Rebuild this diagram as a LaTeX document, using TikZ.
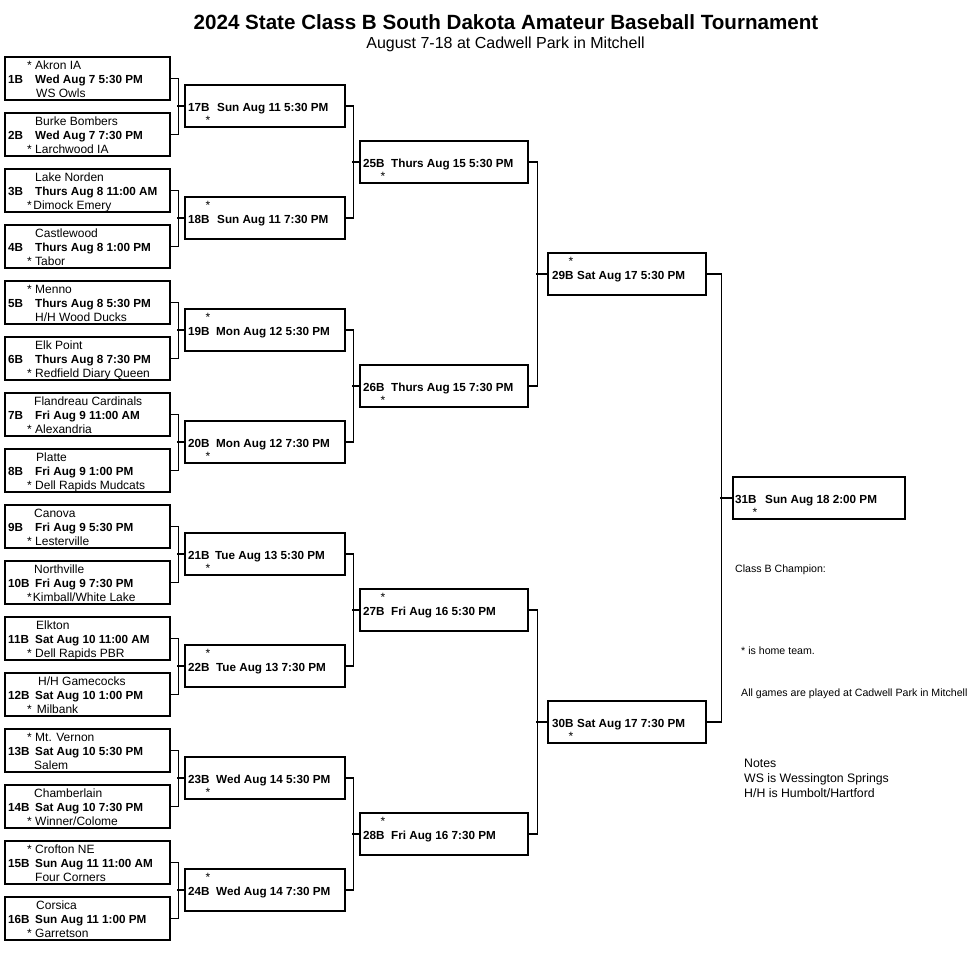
\documentclass[tikz,border=0pt]{standalone}
\usepackage{fontspec}
\setmainfont{Liberation Sans}
\tikzset{
  gbox/.style={draw, line width=1.3pt, inner sep=0pt},
  conn/.style={draw, line width=1.3pt},
  tm/.style={inner sep=0pt, anchor=base west, font=\fontsize{12}{14}\selectfont},
  bd/.style={inner sep=0pt, anchor=base west, font=\fontsize{11.7}{14}\selectfont\bfseries},
  st/.style={inner sep=0pt, anchor=base, font=\fontsize{12}{14}\selectfont},
  sm/.style={inner sep=0pt, anchor=base west, font=\fontsize{10.6}{12}\selectfont},
  nt/.style={inner sep=0pt, anchor=base west, font=\fontsize{12.3}{14}\selectfont},
}
% first round game: #1 idx, #2 top text, #3 its x, #4 date, #5 bottom text, #6 its x
\newcommand{\firstgame}[6]{%
  \pgfmathsetmacro{\tp}{57+(#1-1)*56}%
  \node[gbox, minimum width=165pt, minimum height=43pt] (g#1) at (87.5,\tp+21.5) {};
  \node[tm] (g#1t) at (#3,\tp+12) {#2};
  \node[bd] (g#1l) at (8,\tp+26.5) {#1B};
  \node[bd] (g#1d) at (35,\tp+26.5) {#4};
  \node[tm] (g#1u) at (#6,\tp+40) {#5};
}
% later game: #1 idx, #2 left, #3 right, #4 cy, #5 label off, #6 date off, #7 star off, #8 star dy, #9 date
\newcommand{\game}[9]{%
  \pgfmathsetmacro{\gw}{#3-#2}%
  \pgfmathsetmacro{\gc}{(#2+#3)/2}%
  \node[gbox, minimum width=\gw pt, minimum height=42pt] (g#1) at (\gc,#4) {};
  \node[bd] (g#1l) at (#2+#5,#4+5) {#1B};
  \node[bd] (g#1d) at (#2+#6,#4+5) {#9};
  \node[st] (g#1s) at (#2+#7,#4+#8) {*};
}
\begin{document}
\begin{tikzpicture}[x=1pt,y=-1pt]
\useasboundingbox (0,0) rectangle (976,970);
\fill[white] (0,0) rectangle (976,970);

\node[inner sep=0pt, anchor=base, font=\fontsize{20.6}{24}\selectfont\bfseries] (title) at (506,29.4) {2024 State Class B South Dakota Amateur Baseball Tournament};
\node[inner sep=0pt, anchor=base, font=\fontsize{16}{18}\selectfont] (subtitle) at (505.5,48.5) {August 7-18 at Cadwell Park in Mitchell};

\firstgame{1}{* Akron IA}{27}{Wed Aug 7 5:30 PM}{WS Owls}{36}
\firstgame{2}{Burke Bombers}{35}{Wed Aug 7 7:30 PM}{* Larchwood IA}{27}
\firstgame{3}{Lake Norden}{35}{Thurs Aug 8 11:00 AM}{*\hspace{1.5pt}Dimock Emery}{27}
\firstgame{4}{Castlewood}{35}{Thurs Aug 8 1:00 PM}{* Tabor}{27}
\firstgame{5}{* Menno}{27}{Thurs Aug 8 5:30 PM}{H/H Wood Ducks}{35}
\firstgame{6}{Elk Point}{35}{Thurs Aug 8 7:30 PM}{* Redfield Diary Queen}{27}
\firstgame{7}{Flandreau Cardinals}{34}{Fri Aug 9 11:00 AM}{* Alexandria}{27}
\firstgame{8}{Platte}{36}{Fri Aug 9 1:00 PM}{* Dell Rapids Mudcats}{27}
\firstgame{9}{Canova}{34}{Fri Aug 9 5:30 PM}{* Lesterville}{27}
\firstgame{10}{Northville}{34}{Fri Aug 9 7:30 PM}{*\hspace{1pt}Kimball/White Lake}{27}
\firstgame{11}{Elkton}{36}{Sat Aug 10 11:00 AM}{* Dell Rapids PBR}{27}
\firstgame{12}{H/H Gamecocks}{38}{Sat Aug 10 1:00 PM}{*\hspace{5pt}Milbank}{27}
\firstgame{13}{* Mt. Vernon}{27}{Sat Aug 10 5:30 PM}{Salem}{34}
\firstgame{14}{Chamberlain}{34}{Sat Aug 10 7:30 PM}{* Winner/Colome}{27}
\firstgame{15}{* Crofton NE}{27}{Sun Aug 11 11:00 AM}{Four Corners}{35}
\firstgame{16}{Corsica}{36}{Sun Aug 11 1:00 PM}{* Garretson}{27}

% second round
\game{17}{185}{345}{106}{3}{32}{23}{18}{Sun Aug 11 5:30 PM}
\game{18}{185}{345}{218}{3}{32}{23}{-9}{Sun Aug 11 7:30 PM}
\game{19}{185}{345}{330}{3}{31}{23}{-9}{Mon Aug 12 5:30 PM}
\game{20}{185}{345}{442}{3}{31}{23}{18}{Mon Aug 12 7:30 PM}
\game{21}{185}{345}{554}{3}{30}{23}{18}{Tue Aug 13 5:30 PM}
\game{22}{185}{345}{666}{3}{31}{23}{-9}{Tue Aug 13 7:30 PM}
\game{23}{185}{345}{778}{3}{31}{23}{18}{Wed Aug 14 5:30 PM}
\game{24}{185}{345}{890}{3}{31}{23}{-9}{Wed Aug 14 7:30 PM}
% third round
\game{25}{360}{528}{162}{3}{31}{23}{18}{Thurs Aug 15 5:30 PM}
\game{26}{360}{528}{386}{3}{31}{23}{18}{Thurs Aug 15 7:30 PM}
\game{27}{360}{528}{610}{3}{31}{23}{-9}{Fri Aug 16 5:30 PM}
\game{28}{360}{528}{834}{3}{31}{23}{-9}{Fri Aug 16 7:30 PM}
% semis
\game{29}{548}{706}{274}{4}{29}{23}{-9}{Sat Aug 17 5:30 PM}
\game{30}{548}{706}{722}{4}{29}{23}{18}{Sat Aug 17 7:30 PM}
% final
\game{31}{733}{905}{498}{2}{32}{22}{18}{Sun Aug 18 2:00 PM}

% connectors round 1 -> 2
\foreach \a/\b/\c in {1/2/17,3/4/18,5/6/19,7/8/20,9/10/21,11/12/22,13/14/23,15/16/24}{
  \draw[conn] (g\a.east) -- ++(8,0) |- (g\b.east);
  \draw[conn] (g\c.west) -- ++(-7,0);
}
% round 2 -> 3
\foreach \a/\b/\c in {17/18/25,19/20/26,21/22/27,23/24/28}{
  \draw[conn] (g\a.east) -- ++(8,0) |- (g\b.east);
  \draw[conn] (g\c.west) -- ++(-7,0);
}
% round 3 -> 4
\foreach \a/\b/\c in {25/26/29,27/28/30}{
  \draw[conn] (g\a.east) -- ++(9,0) |- (g\b.east);
  \draw[conn] (g\c.west) -- ++(-11,0);
}
% round 4 -> final
\draw[conn] (g29.east) -- ++(15,0) |- (g30.east);
\draw[conn] (g31.west) -- ++(-12,0);

% side texts
\node[sm] (champ) at (735,572.5) {Class B Champion:};
\node[sm] (home) at (741,654.5) {* is home team.};
\node[sm] (allg) at (741,696) {All games are played at Cadwell Park in Mitchell};
\node[nt] (notes) at (744,767.5) {Notes};
\node[nt] (ws) at (744,782.5) {WS is Wessington Springs};
\node[nt] (hh) at (744,797.5) {H/H is Humbolt/Hartford};
\end{tikzpicture}
\end{document}
